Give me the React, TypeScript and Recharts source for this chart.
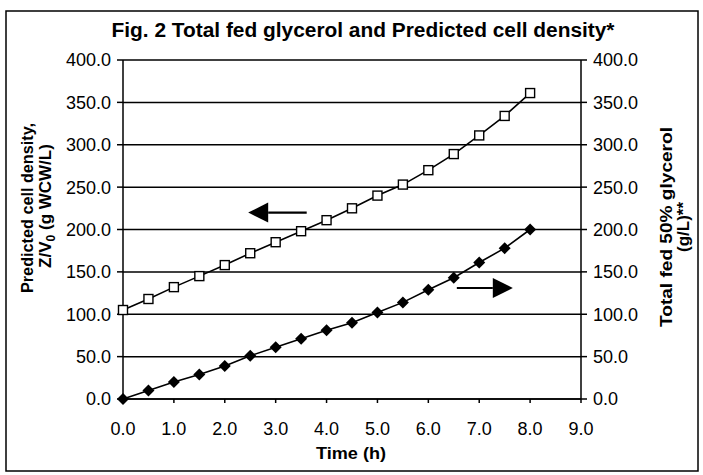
import {
  CartesianGrid,
  Line,
  LineChart,
  ReferenceLine,
  XAxis,
  YAxis,
} from "recharts";

const hours = [0, 0.5, 1, 1.5, 2, 2.5, 3, 3.5, 4, 4.5, 5, 5.5, 6, 6.5, 7, 7.5, 8];
const cellDensity = [105, 118, 132, 145, 158, 172, 185, 198, 211, 225, 240, 253, 270, 289, 311, 334, 361];
const fedGlycerol = [0, 10, 20, 29, 39, 51, 61, 71, 81, 90, 102, 114, 129, 143, 161, 178, 200];
const xTicks = [0, 1, 2, 3, 4, 5, 6, 7, 8, 9];
const yTicks = [0, 50, 100, 150, 200, 250, 300, 350, 400];

const data = hours.map((t, i) => ({ t, cell: cellDensity[i], gly: fedGlycerol[i] }));

const FONT = "'Liberation Sans Narrow', 'Arial Narrow', 'Liberation Sans', Arial, sans-serif";
const BOLD = "'Liberation Sans', Arial, sans-serif";
const tickStyle = { fill: "#000", fontFamily: FONT, fontSize: 18 };
const fmt = (v: number) => v.toFixed(1);

function SquareDot(props: any) {
  const { cx, cy } = props;
  if (cx == null || cy == null) return null;
  return <rect x={cx - 4.5} y={cy - 4.5} width={9} height={9} fill="#fff" stroke="#000" strokeWidth={1.4} />;
}

function DiamondDot(props: any) {
  const { cx, cy } = props;
  if (cx == null || cy == null) return null;
  return <polygon points={`${cx - 6},${cy} ${cx},${cy - 6} ${cx + 6},${cy} ${cx},${cy + 6}`} fill="#000" />;
}

function Arrow(props: any) {
  const { x1, y1, x2, y2 } = props;
  const dir = x2 > x1 ? 1 : -1;
  const head = 20;
  const baseX = x2 - dir * head;
  return (
    <g>
      <line x1={x1} y1={y1} x2={baseX} y2={y2} stroke="#000" strokeWidth={2.2} />
      <polygon points={`${x2},${y2} ${baseX},${y2 - 10} ${baseX},${y2 + 10}`} fill="#000" />
    </g>
  );
}

export default function App() {
  return (
    <div style={{ position: "absolute", left: 0, top: 0, width: 703, height: 475, background: "#fff" }}>
      <LineChart width={703} height={475} data={data} margin={{ top: 60, right: 0, bottom: 0, left: 0 }}>
        <CartesianGrid yAxisId="left" vertical={false} stroke="#000" strokeWidth={1.5} />
        <XAxis
          dataKey="t"
          type="number"
          domain={[0, 9]}
          ticks={xTicks}
          tickFormatter={fmt}
          height={76}
          tick={tickStyle}
          stroke="#000"
          strokeWidth={1.5}
          tickSize={4}
          tickMargin={19}
        />
        <YAxis
          yAxisId="left"
          domain={[0, 400]}
          ticks={yTicks}
          tickFormatter={fmt}
          width={123}
          tick={tickStyle}
          stroke="#000"
          strokeWidth={1.5}
          tickSize={6}
          tickMargin={6}
        />
        <YAxis
          yAxisId="right"
          orientation="right"
          domain={[0, 400]}
          ticks={yTicks}
          tickFormatter={fmt}
          width={122}
          tick={tickStyle}
          stroke="#000"
          strokeWidth={1.5}
          tickSize={6}
          tickMargin={6}
        />
        <Line
          yAxisId="left"
          dataKey="cell"
          stroke="#000"
          strokeWidth={1.6}
          dot={<SquareDot />}
          isAnimationActive={false}
        />
        <Line
          yAxisId="right"
          dataKey="gly"
          stroke="#000"
          strokeWidth={1.6}
          dot={<DiamondDot />}
          isAnimationActive={false}
        />
        <ReferenceLine
          yAxisId="left"
          segment={[
            { x: 3.61, y: 220 },
            { x: 2.46, y: 220 },
          ]}
          shape={<Arrow />}
        />
        <ReferenceLine
          yAxisId="right"
          segment={[
            { x: 6.56, y: 131 },
            { x: 7.66, y: 131 },
          ]}
          shape={<Arrow />}
        />
      </LineChart>
      <svg
        width={703}
        height={475}
        style={{ position: "absolute", left: 0, top: 0, pointerEvents: "none" }}
      >
        <rect x={6} y={11} width={692} height={460} fill="none" stroke="#000" strokeWidth={1.5} />
        <text
          x={363}
          y={37}
          textAnchor="middle"
          fontFamily={BOLD}
          fontWeight="bold"
          fontSize={20}
          textLength={503}
          lengthAdjust="spacingAndGlyphs"
        >
          Fig. 2 Total fed glycerol and Predicted cell density*
        </text>
        <text x={351} y={459} textAnchor="middle" fontFamily={BOLD} fontWeight="bold" fontSize={17} textLength={70} lengthAdjust="spacingAndGlyphs">
          Time (h)
        </text>
        <g transform="translate(33,208) rotate(-90)">
          <text x={0} y={0} textAnchor="middle" fontFamily={BOLD} fontWeight="bold" fontSize={17} textLength={170} lengthAdjust="spacingAndGlyphs">
            Predicted cell density,
          </text>
        </g>
        <g transform="translate(51,206) rotate(-90)">
          <text x={0} y={0} textAnchor="middle" fontFamily={BOLD} fontWeight="bold" fontSize={17}>
            Z/V<tspan fontSize={12} dy={4}>0</tspan>
            <tspan dy={-4}> (g WCW/L)</tspan>
          </text>
        </g>
        <g transform="translate(672,227) rotate(-90)">
          <text x={0} y={0} textAnchor="middle" fontFamily={BOLD} fontWeight="bold" fontSize={17} textLength={200} lengthAdjust="spacingAndGlyphs">
            Total fed 50% glycerol
          </text>
        </g>
        <g transform="translate(689,227) rotate(-90)">
          <text x={0} y={0} textAnchor="middle" fontFamily={BOLD} fontWeight="bold" fontSize={17}>
            (g/L)**
          </text>
        </g>
      </svg>
    </div>
  );
}
